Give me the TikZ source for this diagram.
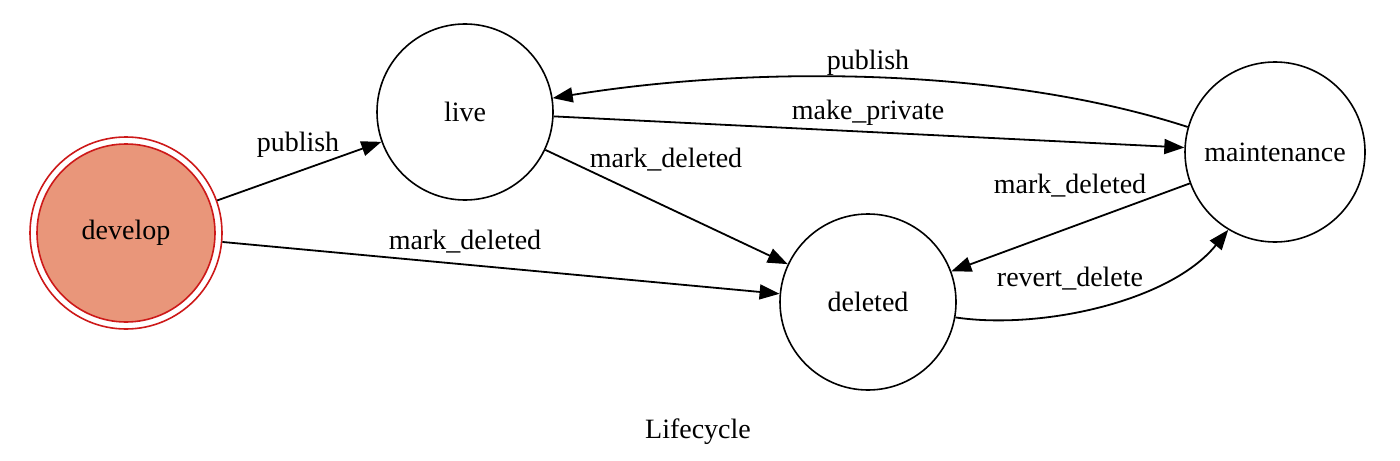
\documentclass[tikz,border=0pt]{standalone}
\usepackage{fontspec}
\setmainfont{Liberation Serif}
\usetikzlibrary{arrows.meta}
\definecolor{devfill}{RGB}{233,150,122}
\definecolor{devline}{RGB}{205,25,25}
\begin{document}
\begin{tikzpicture}[x=0.5pt,y=-0.5pt,
  every node/.style={font=\fontsize{14pt}{17pt}\selectfont},
  state/.style={circle,draw,line width=0.8pt,inner sep=0pt,minimum size=88pt},
  edge/.style={line width=0.9pt,-{Triangle[length=10pt,width=7.5pt]}},
  lbl/.style={inner sep=1pt}]
\useasboundingbox (0,0) rectangle (1400,460);
\node[circle,draw=devline,line width=0.8pt,inner sep=0pt,minimum size=96pt] (develop) at (126,233) {};
\node[circle,draw=devline,fill=devfill,line width=0.8pt,inner sep=0pt,minimum size=89pt] (developin) at (develop.center) {develop};
\node[state] (live) at (465,112) {live};
\node[state] (deleted) at (868,302) {deleted};
\node[state,minimum size=90pt] (maint) at (1275,152) {maintenance};

\draw[edge] (develop) -- (live);
\draw[edge] (develop) -- (deleted);
\draw[edge] (live) -- (deleted);
\draw[edge] (live) -- (maint);
\draw[edge] (maint.164) .. controls (1000,66) and (750,66) .. (live.9);
\draw[edge] (maint) -- (deleted);
\draw[edge] (deleted.-10) .. controls (1040,330) and (1170,302) .. (maint.-121);

\node[lbl] (l1) at (298,145) {publish};
\node[lbl] (l2) at (465,242) {mark\_deleted};
\node[lbl] (l3) at (666,160) {mark\_deleted};
\node[lbl] (l4) at (868,113) {make\_private};
\node[lbl] (l5) at (868,63) {publish};
\node[lbl] (l6) at (1070,186) {mark\_deleted};
\node[lbl] (l7) at (1070,279) {revert\_delete};
\node[lbl] (title) at (698,432) {Lifecycle};
\end{tikzpicture}
\end{document}
